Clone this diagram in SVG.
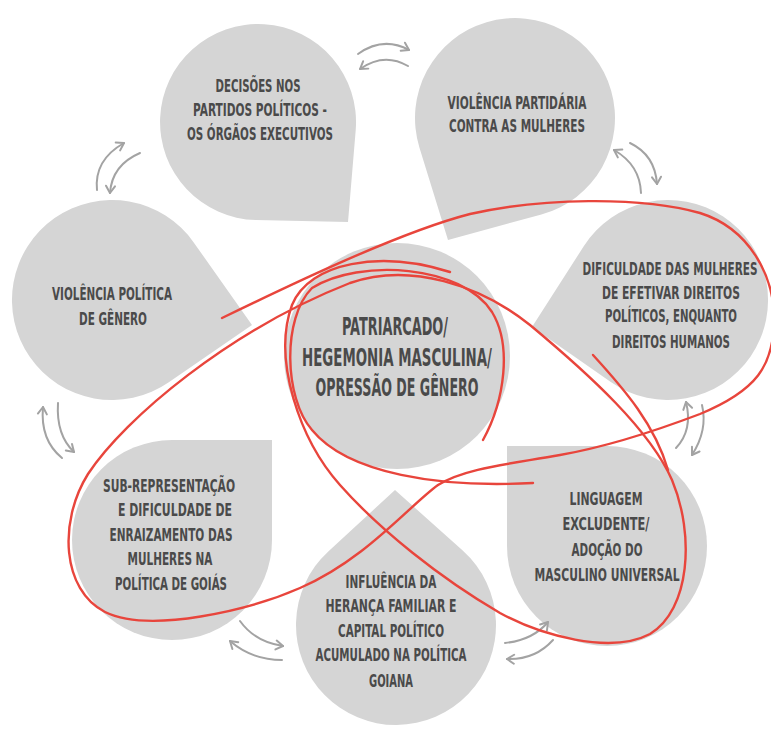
<svg xmlns="http://www.w3.org/2000/svg" width="771" height="732" viewBox="0 0 771 732">
<style>
.shape{fill:#d5d5d5}
.lbl{font-family:"Liberation Sans Narrow","DejaVu Sans Condensed","Roboto Condensed","Liberation Sans",sans-serif;font-weight:bold;font-size:18px;fill:#4a4a4a;text-anchor:middle}
.big{font-size:25px}
.arr{fill:none;stroke:#a3a3a3;stroke-width:2;stroke-linecap:round;marker-end:url(#ah)}
.red{fill:none;stroke:#e8453c;stroke-width:2.4;stroke-linecap:round;stroke-linejoin:round}
</style>
<defs>
<marker id="ah" markerUnits="userSpaceOnUse" markerWidth="12" markerHeight="12" viewBox="0 0 12 12" refX="10" refY="6" orient="auto">
<path d="M3,1.5 L10,6 L3,10.5" fill="none" stroke="#a3a3a3" stroke-width="2" stroke-linecap="round" stroke-linejoin="round"/>
</marker>
</defs>
<rect width="771" height="732" fill="#ffffff"/>

<g id="node-decisoes">
<path class="shape" d="M348,222 L355.7,130.2 A98,98 0 1 0 255.9,220 Z"/>
<text class="lbl" x="258" y="92" textLength="85" lengthAdjust="spacingAndGlyphs">DECISÕES NOS</text>
<text class="lbl" x="260" y="116" textLength="134" lengthAdjust="spacingAndGlyphs">PARTIDOS POLÍTICOS -</text>
<text class="lbl" x="260" y="140" textLength="146" lengthAdjust="spacingAndGlyphs">OS ÓRGÃOS EXECUTIVOS</text>
</g>

<g id="node-violencia-partidaria">
<path class="shape" d="M448,240 L541.4,214.5 A100,100 0 1 0 419.4,147.4 Z"/>
<text class="lbl" x="517" y="109" textLength="139" lengthAdjust="spacingAndGlyphs">VIOLÊNCIA PARTIDÁRIA</text>
<text class="lbl" x="517" y="132" textLength="136" lengthAdjust="spacingAndGlyphs">CONTRA AS MULHERES</text>
</g>

<g id="node-violencia-politica">
<path class="shape" d="M252,325 L193.7,242.4 A100,100 0 1 0 168.8,382.3 Z"/>
<text class="lbl" x="112" y="300" textLength="120" lengthAdjust="spacingAndGlyphs">VIOLÊNCIA POLÍTICA</text>
<text class="lbl" x="113" y="325" textLength="68" lengthAdjust="spacingAndGlyphs">DE GÊNERO</text>
</g>

<g id="node-dificuldade">
<path class="shape" d="M532,327 L610.8,382 A100,100 0 1 0 583.9,246 Z"/>
<text class="lbl" x="670" y="275" textLength="175" lengthAdjust="spacingAndGlyphs">DIFICULDADE DAS MULHERES</text>
<text class="lbl" x="671" y="299" textLength="138" lengthAdjust="spacingAndGlyphs">DE EFETIVAR  DIREITOS</text>
<text class="lbl" x="671" y="322" textLength="132" lengthAdjust="spacingAndGlyphs">POLÍTICOS, ENQUANTO</text>
<text class="lbl" x="671" y="348" textLength="118" lengthAdjust="spacingAndGlyphs">DIREITOS HUMANOS</text>
</g>

<g id="node-sub-representacao">
<path class="shape" d="M272,440 L172,440 A100,100 0 1 0 272,540 Z"/>
<text class="lbl" x="169" y="492" textLength="132" lengthAdjust="spacingAndGlyphs">SUB-REPRESENTAÇÃO</text>
<text class="lbl" x="175" y="516" textLength="114" lengthAdjust="spacingAndGlyphs">E DIFICULDADE DE</text>
<text class="lbl" x="171" y="541" textLength="123" lengthAdjust="spacingAndGlyphs">ENRAIZAMENTO DAS</text>
<text class="lbl" x="170" y="565" textLength="85" lengthAdjust="spacingAndGlyphs">MULHERES NA</text>
<text class="lbl" x="171" y="590" textLength="112" lengthAdjust="spacingAndGlyphs">POLÍTICA DE GOIÁS</text>
</g>

<g id="node-influencia">
<path class="shape" d="M395,490 L328.3,551.4 A100,100 0 1 0 462.7,550.5 Z"/>
<text class="lbl" x="391" y="588" textLength="91" lengthAdjust="spacingAndGlyphs">INFLUÊNCIA DA</text>
<text class="lbl" x="391" y="612" textLength="131" lengthAdjust="spacingAndGlyphs">HERANÇA FAMILIAR  E</text>
<text class="lbl" x="391" y="637" textLength="106" lengthAdjust="spacingAndGlyphs">CAPITAL POLÍTICO</text>
<text class="lbl" x="391" y="661" textLength="151" lengthAdjust="spacingAndGlyphs">ACUMULADO NA POLÍTICA</text>
<text class="lbl" x="391" y="687" textLength="44" lengthAdjust="spacingAndGlyphs">GOIANA</text>
</g>

<g id="node-linguagem">
<path class="shape" d="M507,446 L507,546 A100,100 0 1 0 607,446 Z"/>
<text class="lbl" x="606" y="505" textLength="73" lengthAdjust="spacingAndGlyphs">LINGUAGEM</text>
<text class="lbl" x="606" y="530" textLength="87" lengthAdjust="spacingAndGlyphs">EXCLUDENTE/</text>
<text class="lbl" x="607" y="556" textLength="71" lengthAdjust="spacingAndGlyphs">ADOÇÃO DO</text>
<text class="lbl" x="607" y="581" textLength="145" lengthAdjust="spacingAndGlyphs">MASCULINO UNIVERSAL</text>
</g>

<g id="node-patriarcado">
<circle class="shape" cx="397" cy="356" r="113"/>
<text class="lbl big" x="395" y="335" textLength="106" lengthAdjust="spacingAndGlyphs">PATRIARCADO/</text>
<text class="lbl big" x="397" y="366" textLength="190" lengthAdjust="spacingAndGlyphs">HEGEMONIA MASCULINA/</text>
<text class="lbl big" x="397" y="396" textLength="163" lengthAdjust="spacingAndGlyphs">OPRESSÃO DE GÊNERO</text>
</g>

<g id="connectors">
<path class="arr" d="M358,54 Q383,36 409,50"/>
<path class="arr" d="M408,66 Q384,52 360,69"/>
<path class="arr" d="M97,190 Q94,160 124,143"/>
<path class="arr" d="M140,153 Q112,165 110,193"/>
<path class="arr" d="M641,193 Q640,165 614,150"/>
<path class="arr" d="M630,143 Q655,155 657,184"/>
<path class="arr" d="M62,458 Q40,440 43,407"/>
<path class="arr" d="M58,403 Q56,435 74,452"/>
<path class="arr" d="M676,448 Q693,430 686,402"/>
<path class="arr" d="M702,405 Q708,430 692,455"/>
<path class="arr" d="M240,621 Q255,642 283,646"/>
<path class="arr" d="M282,660 Q252,660 230,641"/>
<path class="arr" d="M505,643 Q533,640 548,622"/>
<path class="arr" d="M553,640 Q535,660 507,659"/>
</g>

<g id="red-loops">
<path class="red" d="M222,318 C290,285 400,232 470,214 C540,198 640,196 700,213 C748,228 776,275 774,325 C772,365 758,390 700,414 C650,433 600,448 560,455 C510,464 465,468 438,485 C410,505 365,560 300,588 C250,610 150,634 105,612 C62,590 58,522 88,474 C125,418 230,330 350,283 C410,262 480,285 530,325 C590,375 650,430 672,480 C695,535 690,610 650,634 C610,655 540,635 500,613 C440,578 380,530 340,485 C300,440 272,360 292,305 C310,262 380,250 450,272"/>
<path class="red" d="M593,355 C625,390 655,425 668,470"/>
<path class="red" d="M483,440 C505,400 512,345 492,312 C462,265 360,258 312,288 C282,318 284,398 312,430 C348,474 440,488 533,483"/>
</g>
</svg>
